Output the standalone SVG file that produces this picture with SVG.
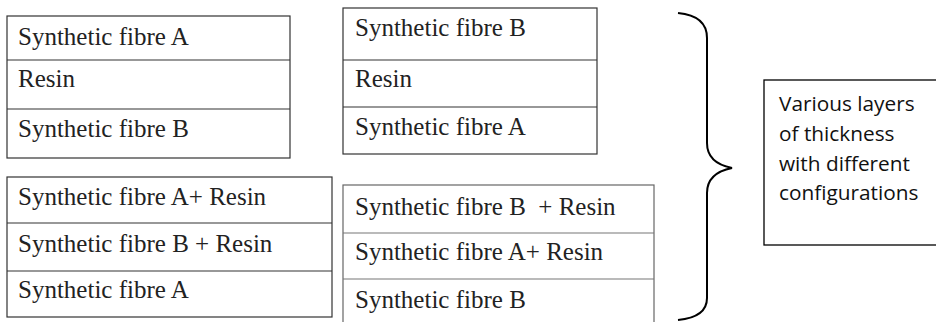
<svg xmlns="http://www.w3.org/2000/svg" width="936" height="322" viewBox="0 0 936 322">
<style>
.box{fill:#fff;stroke:#333;stroke-width:1.2}
.box4{fill:#fff;stroke:#666;stroke-width:1.2}
.div{stroke:#333;stroke-width:1.2}
.div4{stroke:#777;stroke-width:1.2}
.t{font-family:"Liberation Serif","Times New Roman",serif;font-size:25px;fill:#222}
.s{font-family:"Open Sans","Liberation Sans",sans-serif;font-size:20.8px;fill:#111}
.brace{fill:none;stroke:#000;stroke-width:2}
</style>
<rect width="936" height="322" fill="#fff"/>
<g id="stack1">
<rect class="box" x="7" y="16" width="283" height="142"/>
<line class="div" x1="7" y1="60" x2="290" y2="60"/>
<line class="div" x1="7" y1="109" x2="290" y2="109"/>
<text class="t" x="18" y="45">Synthetic fibre A</text>
<text class="t" x="18" y="87">Resin</text>
<text class="t" x="18" y="137">Synthetic fibre B</text>
</g>
<g id="stack2">
<rect class="box" x="343" y="8" width="254" height="146"/>
<line class="div" x1="343" y1="60" x2="597" y2="60"/>
<line class="div" x1="343" y1="107" x2="597" y2="107"/>
<text class="t" x="355" y="36">Synthetic fibre B</text>
<text class="t" x="355" y="87">Resin</text>
<text class="t" x="355" y="135">Synthetic fibre A</text>
</g>
<g id="stack3">
<rect class="box" x="7" y="177" width="325" height="140"/>
<line class="div" x1="7" y1="223" x2="332" y2="223"/>
<line class="div" x1="7" y1="271" x2="332" y2="271"/>
<text class="t" x="18" y="205">Synthetic fibre A+ Resin</text>
<text class="t" x="18" y="252">Synthetic fibre B + Resin</text>
<text class="t" x="18" y="298">Synthetic fibre A</text>
</g>
<g id="stack4">
<rect class="box4" x="343" y="185" width="311" height="150"/>
<line class="div4" x1="343" y1="233" x2="654" y2="233"/>
<line class="div4" x1="343" y1="279" x2="654" y2="279"/>
<text class="t" x="355" y="215" xml:space="preserve">Synthetic fibre B  + Resin</text>
<text class="t" x="355" y="260">Synthetic fibre A+ Resin</text>
<text class="t" x="355" y="308">Synthetic fibre B</text>
</g>
<g id="connectors">
<path class="brace" d="M678,13 C699,15 707,24 707,38 L707,143 C707,157 717,165 732,168 C717,171 707,179 707,193 L707,298 C707,310 699,318 678,320"/>
</g>
<g id="note">
<rect x="764" y="80" width="190" height="165" fill="#fff" stroke="#000" stroke-width="1.3"/>
<text class="s" x="779" y="111">Various layers</text>
<text class="s" x="779" y="141">of thickness</text>
<text class="s" x="779" y="171">with different</text>
<text class="s" x="779" y="200">configurations</text>
</g>
</svg>
